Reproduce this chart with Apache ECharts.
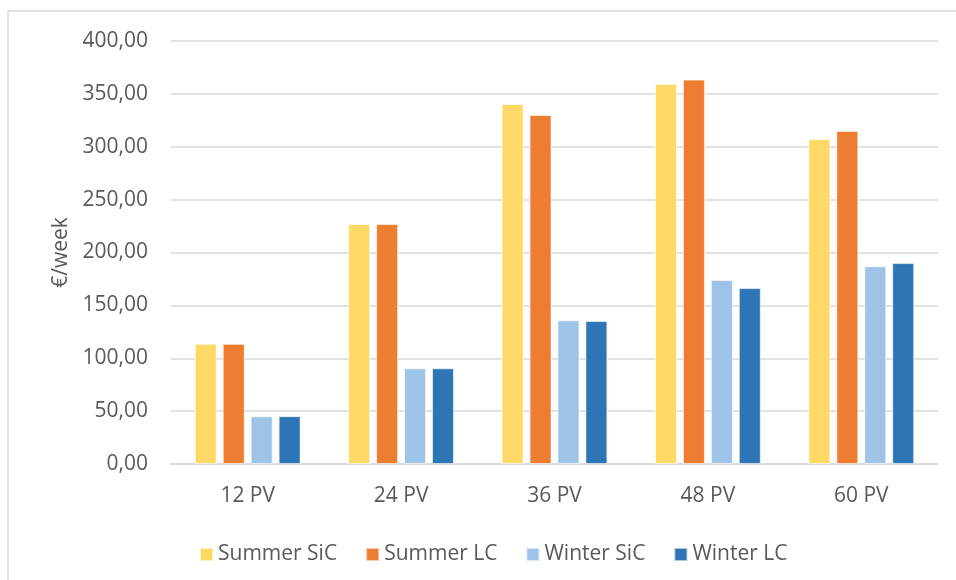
<!DOCTYPE html>
<html>
<head>
<meta charset="utf-8">
<script src="https://cdn.jsdelivr.net/npm/echarts@6/dist/echarts.min.js"></script>
<style>
  html, body { margin: 0; padding: 0; background: #fff; }
  #main { width: 956px; height: 580px; }
</style>
</head>
<body>
<div id="main"></div>
<script>
// categories and series values (€/week)
var categories = ['12 PV', '24 PV', '36 PV', '48 PV', '60 PV'];
var summerSiC = [113.6, 227.0, 340.5, 359.3, 307.3];
var summerLC = [113.6, 227.0, 330.0, 363.5, 315.0];
var winterSiC = [45.2, 90.5, 135.9, 174.0, 187.0];
var winterLC = [45.2, 90.5, 135.3, 166.4, 190.0];
var seriesNames = ['Summer SiC', 'Summer LC', 'Winter SiC', 'Winter LC'];
var colors = ['#FFD966', '#ED7D31', '#9DC3E6', '#2E75B6'];

var font = '"Open Sans", "DejaVu Sans", sans-serif';
var textColor = '#595959';

var myChart = echarts.init(document.getElementById('main'));

function makeBar(name, data, color) {
	return {
		name: name,
		type: 'bar',
		data: data,
		barWidth: 22,
		barGap: '27%',
		itemStyle: { color: color, borderColor: 'rgba(255,255,255,0.6)', borderWidth: 1 }
	};
}

var option = {
	animation: false,
	color: colors,
	textStyle: { fontFamily: font },
	graphic: [{
		type: 'rect',
		shape: { x: 8, y: 11, width: 970, height: 600 },
		style: { fill: 'none', stroke: '#D9D9D9', lineWidth: 1.5 },
		silent: true
	}],
	grid: { left: 171, right: 18, top: 41, bottom: 116 },
	legend: {
		data: seriesNames,
		left: 194,
		top: 539,
		itemWidth: 13,
		itemHeight: 13,
		itemGap: 28,
		icon: 'rect',
		textStyle: { color: textColor, fontSize: 21, fontFamily: font }
	},
	xAxis: {
		type: 'category',
		data: categories,
		axisLine: { lineStyle: { color: '#D9D9D9', width: 1.5 } },
		axisTick: { show: false },
		axisLabel: { color: textColor, fontSize: 21, fontFamily: font, margin: 22 }
	},
	yAxis: {
		type: 'value',
		min: 0,
		max: 400,
		interval: 50,
		name: '€/week',
		nameLocation: 'middle',
		nameGap: 99,
		nameTextStyle: { color: textColor, fontSize: 21, fontFamily: font },
		axisLine: { show: false },
		axisTick: { show: false },
		splitLine: { lineStyle: { color: '#D9D9D9', width: 1.5 } },
		axisLabel: {
			color: textColor,
			fontSize: 21,
			fontFamily: font,
			margin: 23,
			formatter: function (v) { return v.toFixed(2).replace('.', ','); }
		}
	},
	series: [
		makeBar(seriesNames[0], summerSiC, colors[0]),
		makeBar(seriesNames[1], summerLC, colors[1]),
		makeBar(seriesNames[2], winterSiC, colors[2]),
		makeBar(seriesNames[3], winterLC, colors[3])
	]
};

myChart.setOption(option);
</script>
</body>
</html>
